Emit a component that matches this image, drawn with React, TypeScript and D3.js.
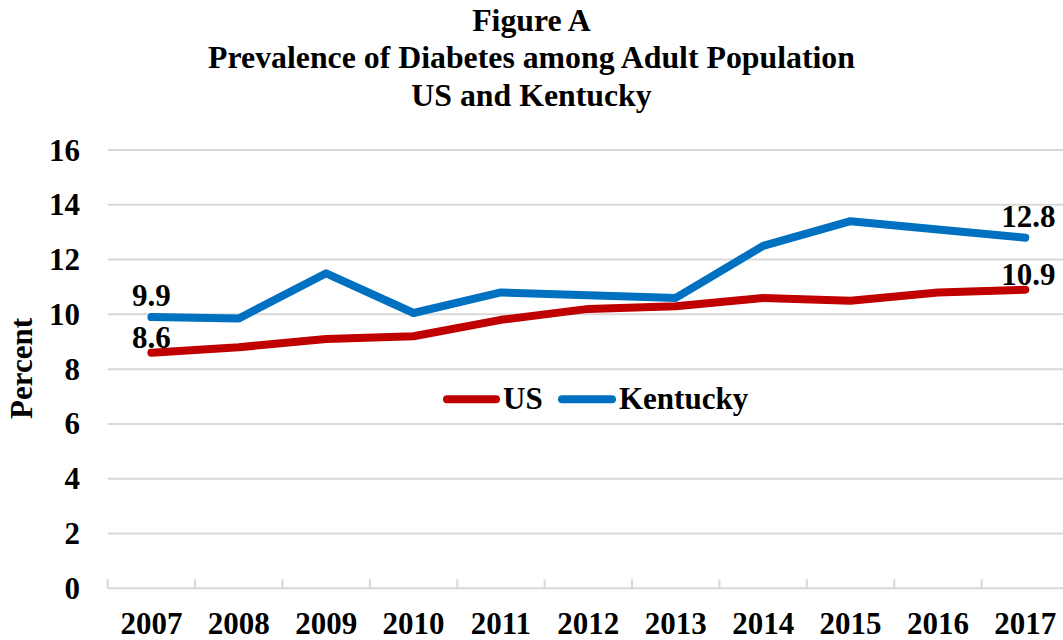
import React from "react";
import * as d3 from "d3";

// Adult diabetes prevalence (percent), 2007–2017
const years = ["2007", "2008", "2009", "2010", "2011", "2012", "2013", "2014", "2015", "2016", "2017"];
const usValues = [8.6, 8.8, 9.1, 9.2, 9.8, 10.2, 10.3, 10.6, 10.5, 10.8, 10.9];
const kentuckyValues = [9.9, 9.85, 11.5, 10.05, 10.8, 10.7, 10.6, 12.5, 13.4, 13.1, 12.8];
const yTicks = [0, 2, 4, 6, 8, 10, 12, 14, 16];
const titleLines = ["Figure A", "Prevalence of Diabetes among Adult Population", "US and Kentucky"];
const labelledIndices = [0, 10];

const W = 1063;
const H = 640;
const FONT = '"Liberation Serif", "Times New Roman", serif';
const GRID = "#D9D9D9";

const series = [
  { name: "US", values: usValues, color: "#C00000", labelDy: -5 },
  { name: "Kentucky", values: kentuckyValues, color: "#0070C0", labelDy: -11 },
];

export default function App() {
  const x = d3.scaleBand<string>().domain(years).range([107.7, 1069]).padding(0);
  const y = d3.scaleLinear().domain([0, 16]).range([588.3, 150]);
  const cx = (i: number) => (x(years[i]) as number) + x.bandwidth() / 2;

  const line = d3
    .line<number>()
    .x((_, i) => cx(i))
    .y((v) => y(v));

  const tickBounds = years.map((yr) => x(yr) as number).concat([x.range()[1]]);

  return (
    <svg
      width={W}
      height={H}
      style={{ position: "absolute", left: 0, top: 0, background: "#fff" }}
      fontFamily={FONT}
      fontWeight="bold"
    >
      <rect width={W} height={H} fill="#fff" />

      {/* title */}
      {titleLines.map((t, i) => (
        <text key={t} x={W / 2} y={30.5 + i * 37.5} textAnchor="middle" fontSize={31.8} fill="#000">
          {t}
        </text>
      ))}

      {/* horizontal gridlines */}
      {yTicks.map((t) => (
        <line key={t} x1={x.range()[0]} x2={x.range()[1]} y1={y(t)} y2={y(t)} stroke={GRID} strokeWidth={2} />
      ))}

      {/* category tick marks */}
      {tickBounds.map((bx, i) => (
        <line key={i} x1={bx} x2={bx} y1={y(0)} y2={y(0) - 9} stroke={GRID} strokeWidth={2} />
      ))}

      {/* y tick labels */}
      {yTicks.map((t) => (
        <text key={t} x={80} y={y(t)} dy="0.34em" textAnchor="end" fontSize={31} fill="#000">
          {t}
        </text>
      ))}

      {/* x tick labels */}
      {years.map((yr, i) => (
        <text key={yr} x={cx(i)} y={634} textAnchor="middle" fontSize={31} fill="#000">
          {yr}
        </text>
      ))}

      {/* y axis title */}
      <text transform={`translate(32, 368.5) rotate(-90)`} textAnchor="middle" fontSize={31} fill="#000">
        Percent
      </text>

      {/* series lines */}
      {series.map((s) => (
        <path
          key={s.name}
          d={line(s.values) || ""}
          fill="none"
          stroke={s.color}
          strokeWidth={8}
          strokeLinecap="round"
          strokeLinejoin="round"
        />
      ))}

      {/* data labels at first and last year */}
      {series.map((s) =>
        labelledIndices.map((i) => (
          <text
            key={s.name + i}
            x={cx(i) + (i === 0 ? 0 : 3)}
            y={y(s.values[i]) + s.labelDy}
            textAnchor="middle"
            fontSize={31}
            fill="#000"
          >
            {s.values[i].toFixed(1)}
          </text>
        ))
      )}

      {/* legend */}
      <g>
        <line x1={447} x2={496} y1={399.3} y2={399.3} stroke={series[0].color} strokeWidth={8} strokeLinecap="round" />
        <text x={503} y={408.5} fontSize={31} fill="#000">
          {series[0].name}
        </text>
        <line x1={562} x2={612} y1={399.3} y2={399.3} stroke={series[1].color} strokeWidth={8} strokeLinecap="round" />
        <text x={619} y={408.5} fontSize={31} fill="#000">
          {series[1].name}
        </text>
      </g>
    </svg>
  );
}
